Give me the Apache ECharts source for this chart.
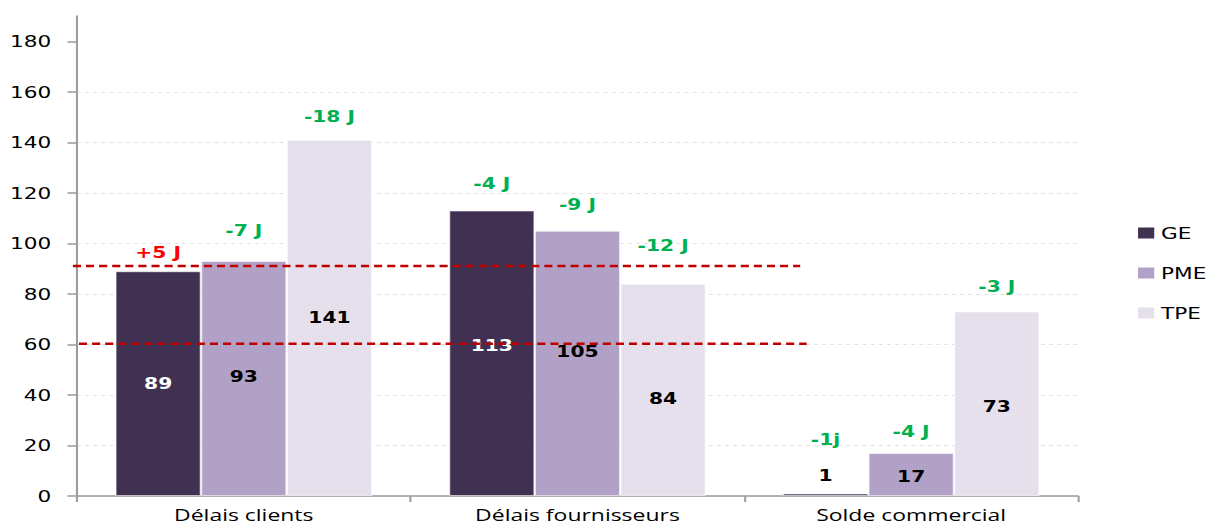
<!DOCTYPE html>
<html>
<head>
<meta charset="utf-8">
<script src="https://cdn.jsdelivr.net/npm/echarts@6/dist/echarts.min.js"></script>
<style>
  html, body { margin: 0; padding: 0; background: #fff; }
  #frame { width: 1208px; height: 526px; overflow: hidden; }
  /* chart is laid out narrower and widened to the frame, giving the broad lettering */
  #chart { width: 895px; height: 526px; transform: scaleX(1.35); transform-origin: 0 0; }
</style>
</head>
<body>
<div id="frame"><div id="chart"></div></div>
<script>
const categories = ['Délais clients', 'Délais fournisseurs', 'Solde commercial'];
const seriesNames = ['GE', 'PME', 'TPE'];
const valuesGE = [89, 113, 1];
const valuesPME = [93, 105, 17];
const valuesTPE = [141, 84, 73];
const notesGE = ['+5 J', '-4 J', '-1j'];
const notesPME = ['-7 J', '-9 J', '-4 J'];
const notesTPE = ['-18 J', '-12 J', '-3 J'];
const yTicks = [0, 20, 40, 60, 80, 100, 120, 140, 160, 180];
const yMax = 190;
const refLevels = [91, 60.3];

// ---- styling ----
const colors = { GE: '#403152', PME: '#b2a1c7', TPE: '#e5e0ec' };
const valueColors = { GE: '#ffffff', PME: '#000000', TPE: '#000000' };
// small vertical nudges of the value labels inside the bars (px)
const valueNudge = { GE: [0, -8, 0], PME: [-2, -12, 2], TPE: [0, 9, 3] };
// gap between each bar top and its variation note (px)
const noteGap = { GE: [11, 20, 46], PME: [23, 19, 14], TPE: [16, 31, 18] };
const FONT = '"DejaVu Sans", Verdana, sans-serif';

const chart = echarts.init(document.getElementById('chart'), null, { renderer: 'svg' });

function valueSeries(name, values) {
  return {
    name: name,
    type: 'bar',
    stack: name,
    barGap: '0%',
    barCategoryGap: '23%',
    itemStyle: { color: colors[name], borderColor: 'rgba(255,255,255,0.55)', borderWidth: 1 },
    label: {
      show: true,
      position: 'inside',
      color: valueColors[name],
      fontFamily: FONT,
      fontWeight: 'bold',
      fontSize: 15
    },
    // very short bars carry their value just above the bar
    data: values.map((v, i) => v < 5
      ? { value: v, label: { position: 'top', color: '#000', distance: 10 } }
      : { value: v, label: { offset: [0, valueNudge[name][i]] } }),
    z: 2
  };
}

function noteSeries(name, values, notes) {
  return {
    name: name + ' variation',
    type: 'bar',
    stack: name,
    itemStyle: { color: 'transparent' },
    label: {
      show: true,
      position: 'top',
      formatter: p => {
        const t = notes[p.dataIndex];
        return t.charAt(0) === '+' ? '{up|' + t + '}' : '{down|' + t + '}';
      },
      rich: {
        up: { color: '#ff0000', fontFamily: FONT, fontWeight: 'bold', fontSize: 15 },
        down: { color: '#00b050', fontFamily: FONT, fontWeight: 'bold', fontSize: 15 }
      }
    },
    data: values.map((v, i) => ({ value: 0, label: { distance: noteGap[name][i] } })),
    silent: true,
    z: 3
  };
}

const option = {
  animation: false,
  backgroundColor: '#ffffff',
  grid: { left: 57, right: 96.5, top: 16, bottom: 30 },
  legend: {
    data: seriesNames,
    orient: 'vertical',
    left: 838,
    top: 220,
    icon: 'rect',
    itemWidth: 12,
    itemHeight: 11,
    itemGap: 24,
    itemStyle: { borderWidth: 0 },
    textStyle: { fontFamily: FONT, fontSize: 16, color: '#000' }
  },
  xAxis: {
    type: 'category',
    data: categories,
    axisLine: { lineStyle: { color: '#9a9a9a', width: 1.5 } },
    axisTick: { show: true, length: 6, lineStyle: { color: '#9a9a9a', width: 1.5 } },
    axisLabel: {
      margin: 10,
      lineHeight: 17,
      color: '#000',
      fontFamily: '"Open Sans", sans-serif',
      fontSize: 17
    },
    splitLine: { show: false }
  },
  yAxis: {
    type: 'value',
    min: 0,
    max: yMax,
    interval: 20,
    axisLine: { show: true, lineStyle: { color: '#9a9a9a', width: 1.5 } },
    axisTick: { show: true, length: 7, customValues: yTicks, lineStyle: { color: '#9a9a9a', width: 1.5 } },
    axisLabel: {
      customValues: yTicks,
      margin: 19,
      color: '#000',
      fontFamily: FONT,
      fontSize: 16
    },
    splitLine: {
      show: true,
      showMaxLine: false,
      lineStyle: { color: '#e2e2e2', type: [3, 3], width: 1 }
    }
  },
  series: [
    valueSeries('GE', valuesGE),
    valueSeries('PME', valuesPME),
    valueSeries('TPE', valuesTPE),
    noteSeries('GE', valuesGE, notesGE),
    noteSeries('PME', valuesPME, notesPME),
    noteSeries('TPE', valuesTPE, notesTPE)
  ]
};

chart.setOption(option);

// red dashed reference levels across the first two groups
const gridLeft = option.grid.left;
const gridWidth = 895 - option.grid.left - option.grid.right;
const spans = [[-3, 0.7225], [1.5, 0.729]];
chart.setOption({
  graphic: refLevels.map((lvl, i) => {
    const y = chart.convertToPixel({ yAxisIndex: 0 }, lvl);
    return {
      type: 'line',
      z: 10,
      shape: { x1: gridLeft + spans[i][0], y1: y, x2: gridLeft + gridWidth * spans[i][1], y2: y },
      style: { stroke: '#c00000', lineWidth: 2.5, lineDash: [6, 3.7] }
    };
  })
});
</script>
</body>
</html>
